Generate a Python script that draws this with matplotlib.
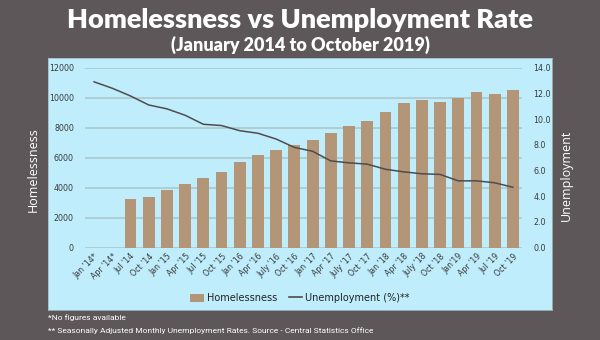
import matplotlib
matplotlib.use("Agg")
import matplotlib.pyplot as plt
import numpy as np
from matplotlib.patches import Patch
from matplotlib.lines import Line2D

quarters = ["Jan '14*", "Apr '14*", "Jul '14", "Oct '14", "Jan '15", "Apr '15",
            "Jul '15", "Oct '15", "Jan '16", "Apr '16", "July '16", "Oct '16",
            "Jan '17", "Apr '17", "July '17", "Oct '17", "Jan '18", "Apr '18",
            "July '18", "Oct '18", "Jan'19", "Apr '19", "Jul '19", "Oct '19"]
# no homelessness figures for the first two quarters
homeless = [np.nan, np.nan, 3250, 3360, 3820, 4240, 4640, 5070, 5710, 6180,
            6510, 6840, 7160, 7670, 8130, 8470, 9070, 9620, 9840, 9690,
            10000, 10360, 10240, 10510]
unemployment = [12.9, 12.4, 11.8, 11.1, 10.8, 10.3, 9.6, 9.5, 9.1, 8.9,
                8.45, 7.8, 7.5, 6.75, 6.6, 6.5, 6.1, 5.9, 5.75, 5.7,
                5.2, 5.2, 5.05, 4.7]

BG = "#5d5759"
PANEL = "#bfedfc"
BAR = "#b39677"
LINE = "#4f4c4f"
GRID = "#aecbd0"
TICK = "#3a3a3a"

fig = plt.figure(figsize=(6, 3.4), dpi=100, facecolor=BG)

# light blue backing panel behind the chart
bg = fig.add_axes([48 / 600, 30 / 340, 504 / 600, 252 / 340], zorder=-1)
bg.set_facecolor(PANEL)
bg.set_xticks([])
bg.set_yticks([])
for s in bg.spines.values():
    s.set_color("#9fb8c0")
    s.set_linewidth(0.6)

ax1 = fig.add_axes([85 / 600, 92.3 / 340, 437 / 600, 180 / 340])
ax1.set_facecolor("none")
x = np.arange(len(quarters))
ax1.bar(x, homeless, width=0.65, color=BAR, zorder=2)
ax1.set_xlim(-0.5, len(quarters) - 0.5)
ax1.set_ylim(0, 12000)
ax1.set_yticks(np.arange(0, 12001, 2000))
ax1.yaxis.grid(True, color=GRID, lw=1.3, zorder=0)
ax1.set_axisbelow(True)
ax1.set_xticks(x)
ax1.set_xticklabels(quarters, rotation=45, ha="right", rotation_mode="anchor")
ax1.tick_params(axis="both", length=0, labelsize=5.7, labelcolor=TICK)
ax1.tick_params(axis="y", pad=8)
ax1.tick_params(axis="x", pad=3)
for s in ax1.spines.values():
    s.set_visible(False)

ax2 = ax1.twinx()
ax2.plot(x, unemployment, color=LINE, lw=1.1, zorder=3)
ax2.set_ylim(0, 14)
ax2.set_yticks(np.arange(0, 14.1, 2))
ax2.set_yticklabels([f"{v:.1f}" for v in np.arange(0, 14.1, 2)])
ax2.tick_params(axis="y", length=0, labelsize=5.7, labelcolor=TICK, pad=8)
for s in ax2.spines.values():
    s.set_visible(False)

fig.text(0.5, 0.94, "Homelessness vs Unemployment Rate", color="white",
         fontsize=19.5, fontweight="heavy", family="Lato", ha="center", va="center")
fig.text(0.5, 0.867, "(January 2014 to October 2019)", color="white",
         fontsize=13, fontweight="heavy", family="Lato", ha="center", va="center")

fig.text(33 / 600, 1 - 170 / 340, "Homelessness", color="white", fontsize=9,
         family="Open Sans", rotation=90, ha="center", va="center")
fig.text(566 / 600, 1 - 175 / 340, "Unemployment", color="white", fontsize=9,
         family="Open Sans", rotation=90, ha="center", va="center")

handles = [Patch(facecolor=BAR, edgecolor="none"),
           Line2D([], [], color=LINE, lw=1.2)]
fig.legend(handles, ["Homelessness", "Unemployment (%)**"],
           loc="center", bbox_to_anchor=(300 / 600, 1 - 298 / 340), ncol=2,
           frameon=False, fontsize=7, handlelength=1.4, handleheight=0.9,
           columnspacing=1.2, handletextpad=0.3, labelcolor="#222222")

fig.text(48 / 600, 1 - 318 / 340, "*No figures available", color="white",
         fontsize=6, family="Roboto", va="center")
fig.text(48 / 600, 1 - 331 / 340,
         "** Seasonally Adjusted Monthly Unemployment Rates. Source - Central Statistics Office",
         color="white", fontsize=6, family="Roboto", va="center")

fig.savefig("out.png", dpi=100, facecolor=BG)
